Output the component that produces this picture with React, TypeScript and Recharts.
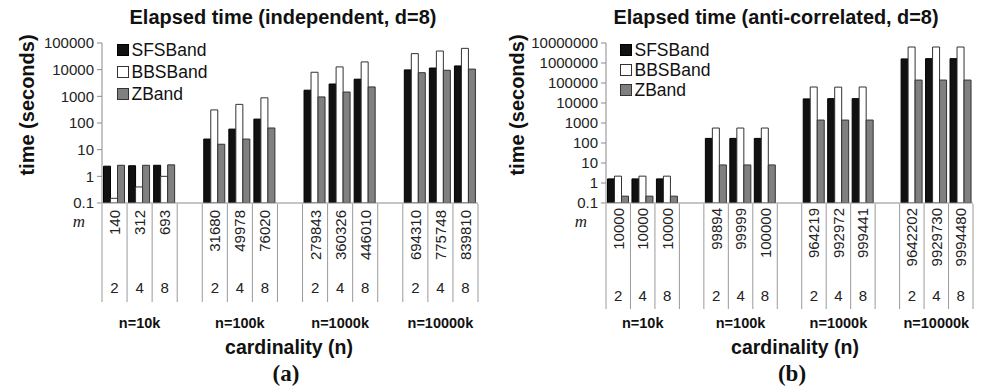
import React from 'react';
import { BarChart, Bar, XAxis, YAxis } from 'recharts';

const categories = ['c1', 'c2', 'c3', 'g1', 'c4', 'c5', 'c6', 'g2', 'c7', 'c8', 'c9', 'g3', 'c10', 'c11', 'c12'];
const groupLabels = ['n=10k', 'n=100k', 'n=1000k', 'n=10000k'];
const dLabels = ['2', '4', '8', '', '2', '4', '8', '', '2', '4', '8', '', '2', '4', '8'];
const seriesNames = ['SFSBand', 'BBSBand', 'ZBand'];

const mIndependent = ['140', '312', '693', '', '31680', '49978', '76020', '', '279843', '360326', '446010', '', '694310', '775748', '839810'];
const mAnti = ['10000', '10000', '10000', '', '99894', '99999', '100000', '', '964219', '992972', '999441', '', '9642202', '9929730', '9994480'];

const sfsIndependent = [2.4, 2.5, 2.6, null, 25, 59, 140, null, 1700, 2900, 4400, null, 9800, 11500, 13800];
const bbsIndependent = [0.15, 0.4, 1.0, null, 310, 500, 880, null, 8000, 12700, 19500, null, 40000, 50000, 63000];
const zIndependent = [2.6, 2.6, 2.7, null, 16, 25, 65, null, 950, 1450, 2250, null, 7700, 9500, 10500];

const sfsAnti = [1.6, 1.6, 1.6, null, 170, 170, 170, null, 16000, 16500, 16500, null, 1600000, 1650000, 1650000];
const bbsAnti = [2.2, 2.2, 2.2, null, 560, 560, 560, null, 63000, 62000, 63000, null, 6300000, 6300000, 6300000];
const zAnti = [0.22, 0.22, 0.22, null, 8, 8, 8, null, 1400, 1400, 1400, null, 140000, 140000, 140000];

const ticksIndependent = [0.1, 1, 10, 100, 1000, 10000, 100000];
const ticksAnti = [0.1, 1, 10, 100, 1000, 10000, 100000, 1000000, 10000000];

const titles = ['Elapsed time (independent, d=8)', 'Elapsed time (anti-correlated, d=8)'];
const panelLetters = ['(a)', '(b)'];

const seriesStyles = [
  { fill: '#111111', stroke: '#000000' },
  { fill: '#ffffff', stroke: '#333333' },
  { fill: '#808080', stroke: '#333333' },
];

const FONT = '"Liberation Sans", Arial, Helvetica, sans-serif';
const SERIF = '"Liberation Serif", "Times New Roman", serif';

function buildRows(sfs: (number | null)[], bbs: (number | null)[], z: (number | null)[], m: string[]) {
  return categories.map((c, i) => ({
    cat: c,
    [seriesNames[0]]: sfs[i],
    [seriesNames[1]]: bbs[i],
    [seriesNames[2]]: z[i],
    m: m[i],
    d: dLabels[i],
  }));
}

const rowsIndependent = buildRows(sfsIndependent, bbsIndependent, zIndependent, mIndependent);
const rowsAnti = buildRows(sfsAnti, bbsAnti, zAnti, mAnti);

type TableCfg = { half: number; lineLen: number; mTop: number; dY: number; nY: number };

function TableTick(props: any) {
  const { x, y, payload, index, rows, cfg } = props;
  const i = typeof index === 'number' ? index : categories.indexOf(payload.value);
  const half = payload && typeof payload.offset === 'number' && payload.offset > 0 ? payload.offset : cfg.half;
  const row = rows[i];
  const last = i === categories.length - 1;
  return (
    <g>
      <line x1={x - half} x2={x - half} y1={y + 1} y2={y + cfg.lineLen} stroke="#9a9a9a" strokeWidth={1} />
      {last && <line x1={x + half} x2={x + half} y1={y + 1} y2={y + cfg.lineLen} stroke="#9a9a9a" strokeWidth={1} />}
      {row && row.m && (
        <text
          x={x}
          y={y + cfg.mTop}
          transform={`rotate(-90 ${x} ${y + cfg.mTop})`}
          textAnchor="end"
          dominantBaseline="central"
          fontSize={15}
          fill="#222"
        >
          {row.m}
        </text>
      )}
      {row && row.d && (
        <text x={x} y={y + cfg.dY} textAnchor="middle" dominantBaseline="central" fontSize={15} fill="#222">
          {row.d}
        </text>
      )}
      {i % 4 === 1 && (
        <text x={x} y={y + cfg.nY} textAnchor="middle" dominantBaseline="central" fontSize={14.5} fontWeight="bold" fill="#111">
          {groupLabels[(i - 1) / 4]}
        </text>
      )}
    </g>
  );
}

type PanelProps = {
  rows: any[];
  ticks: number[];
  yWidth: number;
  rightMargin: number;
  left: number;
  cfg: TableCfg;
};

function Panel({ rows, ticks, yWidth, rightMargin, left, cfg }: PanelProps) {
  return (
    <div style={{ position: 'absolute', left, top: 0 }}>
      <BarChart
        width={493}
        height={392}
        data={rows}
        margin={{ top: 43, right: rightMargin, left: 0, bottom: 0 }}
        barCategoryGap={1.5}
        barGap={0}
      >
        <XAxis
          dataKey="cat"
          height={189}
          interval={0}
          tickLine={false}
          tickSize={0}
          tickMargin={0}
          axisLine={{ stroke: '#8a8a8a' }}
          tick={(p: any) => <TableTick {...p} rows={rows} cfg={cfg} />}
        />
        <YAxis
          width={yWidth}
          scale="log"
          domain={[ticks[0], ticks[ticks.length - 1]]}
          ticks={ticks}
          interval={0}
          allowDataOverflow
          tickSize={5}
          tickMargin={3}
          tickLine={{ stroke: '#8a8a8a' }}
          axisLine={{ stroke: '#8a8a8a' }}
          tick={{ fontSize: 15, fill: '#222' }}
          tickFormatter={(v: number) => String(v)}
        />
        {seriesNames.map((name, k) => (
          <Bar
            key={name}
            dataKey={name}
            fill={seriesStyles[k].fill}
            stroke={seriesStyles[k].stroke}
            strokeWidth={1}
            isAnimationActive={false}
          />
        ))}
      </BarChart>
    </div>
  );
}

type OverlayCfg = {
  title: string;
  titleX: number;
  titleLen: number;
  yLabelX: number;
  mX: number;
  mY: number;
  cardX: number;
  letterX: number;
  letter: string;
  legendX: number;
  legendY: number;
  legendStep: number;
};

function Overlay({ o }: { o: OverlayCfg }) {
  return (
    <g>
      <text
        x={o.titleX}
        y={17}
        textAnchor="middle"
        dominantBaseline="central"
        fontSize={19.5}
        fontWeight="bold"
        fill="#111"
        textLength={o.titleLen}
        lengthAdjust="spacingAndGlyphs"
      >
        {o.title}
      </text>
      <text
        x={o.yLabelX}
        y={105}
        transform={`rotate(-90 ${o.yLabelX} 105)`}
        textAnchor="middle"
        dominantBaseline="central"
        fontSize={20}
        fontWeight="bold"
        fill="#111"
      >
        time (seconds)
      </text>
      <text x={o.mX} y={o.mY} textAnchor="middle" fontSize={17} fontStyle="italic" fontFamily={SERIF} fill="#222">
        m
      </text>
      <text x={o.cardX} y={347} textAnchor="middle" dominantBaseline="central" fontSize={19.5} fontWeight="bold" fill="#111">
        cardinality (n)
      </text>
      <text x={o.letterX} y={373} textAnchor="middle" dominantBaseline="central" fontSize={23} fontWeight="bold" fontFamily={SERIF} fill="#111">
        {o.letter}
      </text>
      {seriesNames.map((name, k) => {
        const cy = o.legendY + k * o.legendStep;
        return (
          <g key={name}>
            <rect x={o.legendX} y={cy - 5.5} width={11} height={11} fill={seriesStyles[k].fill} stroke={seriesStyles[k].stroke} strokeWidth={1} />
            <text x={o.legendX + 14} y={cy} dominantBaseline="central" fontSize={17.5} fill="#111">
              {name}
            </text>
          </g>
        );
      })}
    </g>
  );
}

const overlays: OverlayCfg[] = [
  { title: titles[0], titleX: 283, titleLen: 307, yLabelX: 27, mX: 79, mY: 227, cardX: 289, letterX: 286, letter: panelLetters[0], legendX: 117.5, legendY: 50, legendStep: 22 },
  { title: titles[1], titleX: 776, titleLen: 325, yLabelX: 517, mX: 581, mY: 227, cardX: 795, letterX: 792, letter: panelLetters[1], legendX: 620.5, legendY: 50, legendStep: 20 },
];

export default function App() {
  return (
    <div style={{ position: 'absolute', left: 0, top: 0, width: 986, height: 392, background: '#fff', fontFamily: FONT }}>
      <Panel
        rows={rowsIndependent}
        ticks={ticksIndependent}
        yWidth={102}
        rightMargin={15}
        left={0}
        cfg={{ half: 12.5, lineLen: 99, mTop: 7, dY: 84, nY: 120 }}
      />
      <Panel
        rows={rowsAnti}
        ticks={ticksAnti}
        yWidth={113}
        rightMargin={13}
        left={493}
        cfg={{ half: 12.2, lineLen: 106, mTop: 5, dY: 92, nY: 120 }}
      />
      <svg width={986} height={392} style={{ position: 'absolute', left: 0, top: 0, pointerEvents: 'none', fontFamily: FONT }}>
        {overlays.map((o) => (
          <Overlay key={o.letter} o={o} />
        ))}
      </svg>
    </div>
  );
}
